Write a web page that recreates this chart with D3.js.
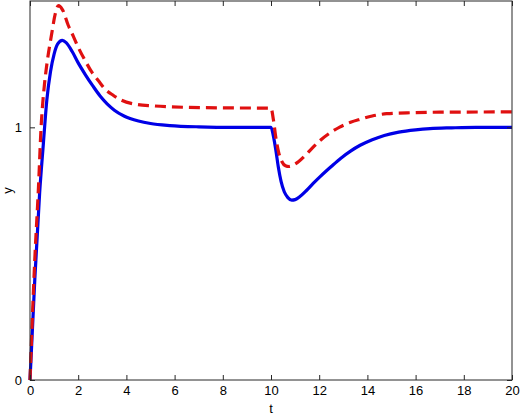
<!DOCTYPE html>
<html>
<head>
<meta charset="utf-8">
<script src="https://cdn.jsdelivr.net/npm/d3@7"></script>
<style>
  body { margin: 0; background: #fff; }
  text { font-family: "Liberation Sans", Arial, sans-serif; }
</style>
</head>
<body>
<div class="chartDiv"></div>
<script>
// data
let xTicks = [0, 2, 4, 6, 8, 10, 12, 14, 16, 18, 20];
let yTicks = [0, 1];

let tBlue = [0, 0.2, 0.4, 0.55, 0.7, 0.85, 1.0, 1.15, 1.34, 1.5, 1.75, 2.0, 2.3, 2.6, 2.9, 3.2, 3.5, 3.9, 4.5, 5.0, 5.8, 7, 8.5, 10,
  10.1, 10.2, 10.3, 10.42, 10.55, 10.7, 10.86, 11.0, 11.2, 11.45, 11.75, 12.05, 12.5, 12.9, 13.3, 13.7, 14.2, 14.7, 15.3, 16, 16.6, 17.5, 18.5, 20];
let yBlue = [0, 0.4, 0.74, 0.93, 1.11, 1.22, 1.29, 1.33, 1.344, 1.335, 1.30, 1.255, 1.208, 1.165, 1.125, 1.093, 1.068, 1.045, 1.025, 1.015, 1.007, 1.002, 1.0, 1.0,
  0.965, 0.91, 0.845, 0.785, 0.745, 0.722, 0.712, 0.714, 0.726, 0.748, 0.778, 0.806, 0.845, 0.878, 0.906, 0.929, 0.951, 0.968, 0.981, 0.99, 0.995, 0.998, 1.0, 1.0];

let tRed = [0, 0.2, 0.35, 0.46, 0.6, 0.7, 0.9, 1.05, 1.18, 1.35, 1.59, 1.8, 2.0, 2.3, 2.56, 2.85, 3.1, 3.45, 3.8, 4.4, 5.1, 6.5, 8, 10,
  10.1, 10.2, 10.32, 10.45, 10.6, 10.75, 10.95, 11.15, 11.4, 11.7, 12.05, 12.45, 12.85, 13.3, 13.7, 14.2, 14.8, 15.9, 17, 20];
let yRed = [0, 0.48, 0.76, 1.0, 1.17, 1.25, 1.37, 1.45, 1.482, 1.465, 1.403, 1.36, 1.317, 1.262, 1.219, 1.183, 1.153, 1.127, 1.107, 1.091, 1.085, 1.079, 1.077, 1.076,
  1.03, 0.96, 0.9, 0.865, 0.848, 0.845, 0.852, 0.865, 0.887, 0.917, 0.949, 0.978, 1.001, 1.02, 1.032, 1.045, 1.054, 1.058, 1.06, 1.061];

let width = 520, height = 415;
let margin = { left: 30, right: 8, top: 1, bottom: 35 };

let svg = d3.select(".chartDiv").append("svg")
  .attr("width", width)
  .attr("height", height);

let xScale = d3.scaleLinear().domain([0, 20]).range([margin.left, width - margin.right]);
let yScale = d3.scaleLinear().domain([0, 1.5]).range([height - margin.bottom, margin.top]);

// curves
let line = d3.line()
  .x(d => xScale(d[0]))
  .y(d => yScale(d[1]))
  .curve(d3.curveMonotoneX);

let gLines = svg.append("g").attr("class", "gLines");
gLines.append("path")
  .datum(d3.zip(tBlue, yBlue))
  .attr("d", line)
  .attr("fill", "none")
  .attr("stroke", "#0000e6")
  .attr("stroke-width", 3.2);
gLines.append("path")
  .datum(d3.zip(tRed, yRed))
  .attr("d", line)
  .attr("fill", "none")
  .attr("stroke", "#e01010")
  .attr("stroke-width", 3.2)
  .attr("stroke-dasharray", "11,6");

// axes, ticks pointing inward on all four sides
let axisColor = "#262626";
let tickLen = 5;
let x0 = xScale.range()[0], x1 = xScale.range()[1];
let y0 = yScale.range()[0], y1 = yScale.range()[1];

let gXBottom = svg.append("g")
  .attr("transform", "translate(0," + y0 + ")")
  .call(d3.axisBottom(xScale).tickValues(xTicks).tickSize(-tickLen).tickPadding(6).tickFormat(d3.format("d")));
let gXTop = svg.append("g")
  .attr("transform", "translate(0," + y1 + ")")
  .call(d3.axisTop(xScale).tickValues(xTicks).tickSize(-tickLen).tickFormat(""));
let gYLeft = svg.append("g")
  .attr("transform", "translate(" + x0 + ",0)")
  .call(d3.axisLeft(yScale).tickValues(yTicks).tickSize(-tickLen).tickPadding(8).tickFormat(d3.format("d")));
let gYRight = svg.append("g")
  .attr("transform", "translate(" + x1 + ",0)")
  .call(d3.axisRight(yScale).tickValues(yTicks).tickSize(-tickLen).tickFormat(""));

[gXBottom, gXTop, gYLeft, gYRight].forEach(g => {
  g.select(".domain").remove();
  g.selectAll("line").attr("stroke", axisColor);
  g.selectAll("text").attr("fill", "#000").attr("font-size", 13)
    .attr("font-family", "'Liberation Sans', Arial, sans-serif");
});

svg.append("rect")
  .attr("x", x0).attr("y", y1)
  .attr("width", x1 - x0).attr("height", y0 - y1)
  .attr("fill", "none")
  .attr("stroke", axisColor)
  .attr("stroke-width", 1);

// axis titles
svg.append("text")
  .attr("x", (x0 + x1) / 2)
  .attr("y", 413)
  .attr("text-anchor", "middle")
  .attr("font-size", 13)
  .text("t");
svg.append("text")
  .attr("transform", "translate(12," + ((y0 + y1) / 2) + ") rotate(-90)")
  .attr("text-anchor", "middle")
  .attr("font-size", 13)
  .text("y");
</script>
</body>
</html>
